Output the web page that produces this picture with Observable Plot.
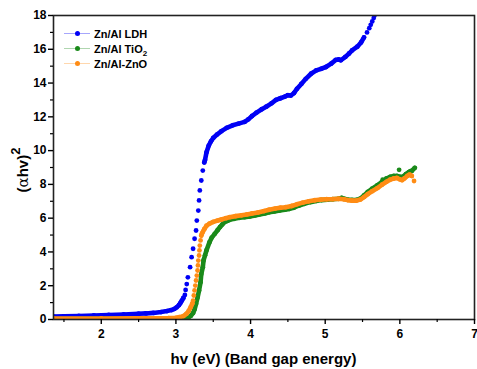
<!DOCTYPE html>
<html><head><meta charset="utf-8">
<script src="https://cdn.jsdelivr.net/npm/d3@7"></script>
<script src="https://cdn.jsdelivr.net/npm/@observablehq/plot@0.6"></script>
<style>
body{margin:0;background:#fff;font-family:"Liberation Sans",Arial,sans-serif;}
#wrap{position:relative;width:477px;height:369px;}
#legend{position:absolute;left:64px;top:26px;font-weight:bold;font-size:11px;color:#000;}
.row{display:flex;align-items:center;height:15px;}
.sw{position:relative;width:26px;height:10px;margin-right:4px;}
.sw .ln{position:absolute;left:0;right:0;top:4.5px;height:1px;opacity:0.35;}
.sw .dt{position:absolute;left:10.5px;top:2.5px;width:5px;height:5px;border-radius:50%;}
sub{font-size:8px;vertical-align:-3px;line-height:0;}
</style></head>
<body><div id="wrap"></div>
<script>
// ---- data ----
const seriesNames = ["Zn/Al LDH", "Zn/Al TiO\u2082", "Zn/Al-ZnO"];
const xTicks = [2, 3, 4, 5, 6, 7];
const yTicks = [0, 2, 4, 6, 8, 10, 12, 14, 16, 18];

// Zn/Al LDH (blue)
const ldhLow = [[1.36,0.17],[1.5,0.19],[1.7,0.21],[1.9,0.24],[2.1,0.27],[2.3,0.3],[2.5,0.34],[2.6,0.36],[2.7,0.39],[2.8,0.44],[2.88,0.5],[2.94,0.56],[2.98,0.63],[3.01,0.72],[3.04,0.85],[3.06,0.98],[3.08,1.12],[3.1,1.28]];
const ldhEdge = [[3.12,1.45],[3.13,1.75],[3.145,2.1],[3.16,2.5],[3.19,3.1],[3.21,3.69],[3.23,4.19],[3.25,4.78],[3.27,5.27],[3.28,5.86],[3.3,6.45],[3.31,7.05],[3.32,7.64],[3.34,8.23],[3.36,8.82]];
const ldhHigh = [[3.38,9.3],[3.39,9.45],[3.41,9.9],[3.44,10.3],[3.47,10.55],[3.5,10.75],[3.55,10.95],[3.61,11.15],[3.68,11.35],[3.76,11.5],[3.84,11.6],[3.92,11.7],[3.97,11.85],[4.02,12.05],[4.08,12.25],[4.15,12.45],[4.21,12.6],[4.28,12.8],[4.34,13.0],[4.4,13.1],[4.46,13.2],[4.5,13.28],[4.54,13.26],[4.58,13.4],[4.62,13.65],[4.68,13.95],[4.74,14.25],[4.81,14.55],[4.88,14.75],[4.95,14.85],[5.01,14.95],[5.08,15.15],[5.14,15.37],[5.18,15.4],[5.21,15.35],[5.27,15.55],[5.32,15.75],[5.36,15.93],[5.43,16.15],[5.48,16.4],[5.52,16.7]];
const ldhTop = [[5.56,17.0],[5.59,17.25],[5.61,17.45],[5.63,17.65],[5.65,17.85],[5.66,18.0]];

// Zn/Al TiO2 (green)
const tioBand = [[1.36,0.03],[2.0,0.035],[2.5,0.04],[3.0,0.05],[3.1,0.06],[3.16,0.1],[3.2,0.22],[3.23,0.38],[3.25,0.6],[3.27,0.93],[3.29,1.3],[3.31,1.72],[3.33,2.2],[3.34,2.7],[3.36,3.1],[3.37,3.5],[3.39,3.8],[3.41,4.1],[3.45,4.58],[3.48,4.85],[3.52,5.07],[3.56,5.3],[3.59,5.47],[3.62,5.62],[3.65,5.76],[3.69,5.84],[3.72,5.9],[3.78,5.96],[3.85,6.02],[3.92,6.06],[3.99,6.1],[4.06,6.16],[4.12,6.22],[4.19,6.28],[4.25,6.35],[4.32,6.4],[4.39,6.45],[4.46,6.5],[4.52,6.55],[4.58,6.62],[4.65,6.75],[4.72,6.85],[4.8,6.95],[4.88,7.02],[4.95,7.07],[5.03,7.1],[5.1,7.12],[5.18,7.15],[5.22,7.2],[5.25,7.15],[5.3,7.1],[5.36,7.08],[5.42,7.08],[5.47,7.15],[5.52,7.35],[5.57,7.55],[5.63,7.75],[5.7,7.95],[5.76,8.15],[5.82,8.35],[5.87,8.45],[5.92,8.5],[5.96,8.5],[6.0,8.45],[6.04,8.45],[6.08,8.6],[6.12,8.72],[6.16,8.8],[6.2,8.98]];
const tioLoose = [[5.77,8.28],[5.99,8.86],[6.14,8.78]];

// Zn/Al-ZnO (orange)
const znoLow = [[1.36,0.06],[2.0,0.06],[2.5,0.07],[2.9,0.08],[3.0,0.1],[3.05,0.14],[3.1,0.2],[3.14,0.33],[3.17,0.5],[3.2,0.75],[3.22,0.95]];
const znoEdge = [[3.23,1.12],[3.24,1.42],[3.25,1.72],[3.26,2.01],[3.27,2.31],[3.28,2.6],[3.29,2.9],[3.295,3.2],[3.3,3.49],[3.31,3.79],[3.315,4.09],[3.32,4.38],[3.33,4.68]];
const znoHigh = [[3.34,4.97],[3.35,5.1],[3.38,5.35],[3.41,5.55],[3.45,5.68],[3.5,5.78],[3.56,5.86],[3.61,5.92],[3.67,6.0],[3.72,6.06],[3.8,6.12],[3.88,6.17],[3.95,6.22],[4.02,6.28],[4.1,6.34],[4.18,6.42],[4.25,6.5],[4.33,6.57],[4.4,6.62],[4.47,6.65],[4.55,6.72],[4.62,6.82],[4.7,6.92],[4.78,7.0],[4.86,7.06],[4.94,7.1],[5.02,7.12],[5.1,7.13],[5.18,7.15],[5.25,7.12],[5.3,7.07],[5.36,7.04],[5.42,7.04],[5.47,7.1],[5.52,7.25],[5.57,7.42],[5.63,7.6],[5.7,7.78],[5.76,7.98],[5.82,8.15],[5.87,8.28],[5.92,8.35],[5.96,8.38],[6.0,8.3],[6.03,8.25],[6.06,8.35],[6.1,8.5],[6.13,8.58],[6.16,8.5]];
const znoLoose = [[6.19,8.2]];

// ---- build chart ----
const colors = {ldh:"#0000f5", tio:"#1a8a1a", zno:"#ff8c14"};
const rows = (arr, seg) => arr.map(([x,y]) => ({x, y, seg}));

const series = [
  {c: colors.ldh, bands: [ldhLow, ldhHigh], dots: [ldhLow, ldhEdge, ldhHigh, ldhTop]},
  {c: colors.tio, bands: [tioBand], dots: [tioBand, tioLoose]},
  {c: colors.zno, bands: [znoLow, znoHigh], dots: [znoLow, znoEdge, znoHigh, znoLoose]}
];

const marks = [];
for (const s of series) {
  const band = s.bands.flatMap((a, i) => rows(a, i));
  const pts = s.dots.flatMap((a, i) => rows(a, i));
  marks.push(Plot.line(band, {x:"x", y:"y", z:"seg", stroke:s.c, strokeWidth:4.6, strokeLinecap:"round", strokeLinejoin:"round"}));
  marks.push(Plot.dot(pts, {x:"x", y:"y", r:2.4, fill:s.c, stroke:"none"}));
}

const chart = Plot.plot({
  width: 477, height: 369,
  marginLeft: 53, marginRight: 3, marginTop: 15, marginBottom: 50,
  style: {fontFamily:"'Liberation Sans', Arial, sans-serif", fontSize:"12px", fontWeight:"bold", color:"#000", background:"#fff"},
  x: {domain:[1.36, 7]},
  y: {domain:[0, 18]},
  marks: [
    ...marks,
    Plot.frame({stroke:"#222", strokeWidth:1.6}),
    Plot.axisX({ticks:xTicks, tickSize:5, tickPadding:5, label:null, tickFormat:d=>String(d), strokeWidth:1.4}),
    Plot.axisX({ticks:xTicks.map(d=>d-0.5), tickSize:3, text:null, label:null, strokeWidth:1.2}),
    Plot.axisY({ticks:yTicks, tickSize:5, tickPadding:2, label:null, tickFormat:d=>String(d), strokeWidth:1.4}),
    Plot.axisY({ticks:yTicks.slice(0,-1).map(d=>d+1), tickSize:3, text:null, label:null, strokeWidth:1.2})
  ],
  clip: true
});

const wrap = document.getElementById("wrap");
wrap.appendChild(chart);

// axis titles
const svg = d3.select(chart);
svg.append("text")
  .attr("x", 263.5).attr("y", 364)
  .attr("text-anchor", "middle")
  .attr("font-size", 15).attr("font-weight", "bold").attr("fill", "#000")
  .text("hv (eV) (Band gap energy)");
const yl = svg.append("text")
  .attr("transform", "translate(28,170) rotate(-90)")
  .attr("text-anchor", "middle")
  .attr("font-size", 15).attr("font-weight", "bold").attr("fill", "#000");
yl.append("tspan").text("(");
yl.append("tspan").attr("font-family", "'DejaVu Serif', serif").attr("font-weight", "normal").text("\u03b1");
yl.append("tspan").text("hv)");
yl.append("tspan").attr("dy", -8).attr("font-size", 13).text("2");

// legend
const leg = document.createElement("div");
leg.id = "legend";
const legColors = [colors.ldh, colors.tio, colors.zno];
leg.innerHTML = seriesNames.map((n, i) =>
  `<div class="row"><div class="sw"><div class="ln" style="background:${legColors[i]}"></div><div class="dt" style="background:${legColors[i]}"></div></div><span>${n.replace("\u2082", "<sub>2</sub>")}</span></div>`
).join("");
wrap.appendChild(leg);
</script>
</body></html>
